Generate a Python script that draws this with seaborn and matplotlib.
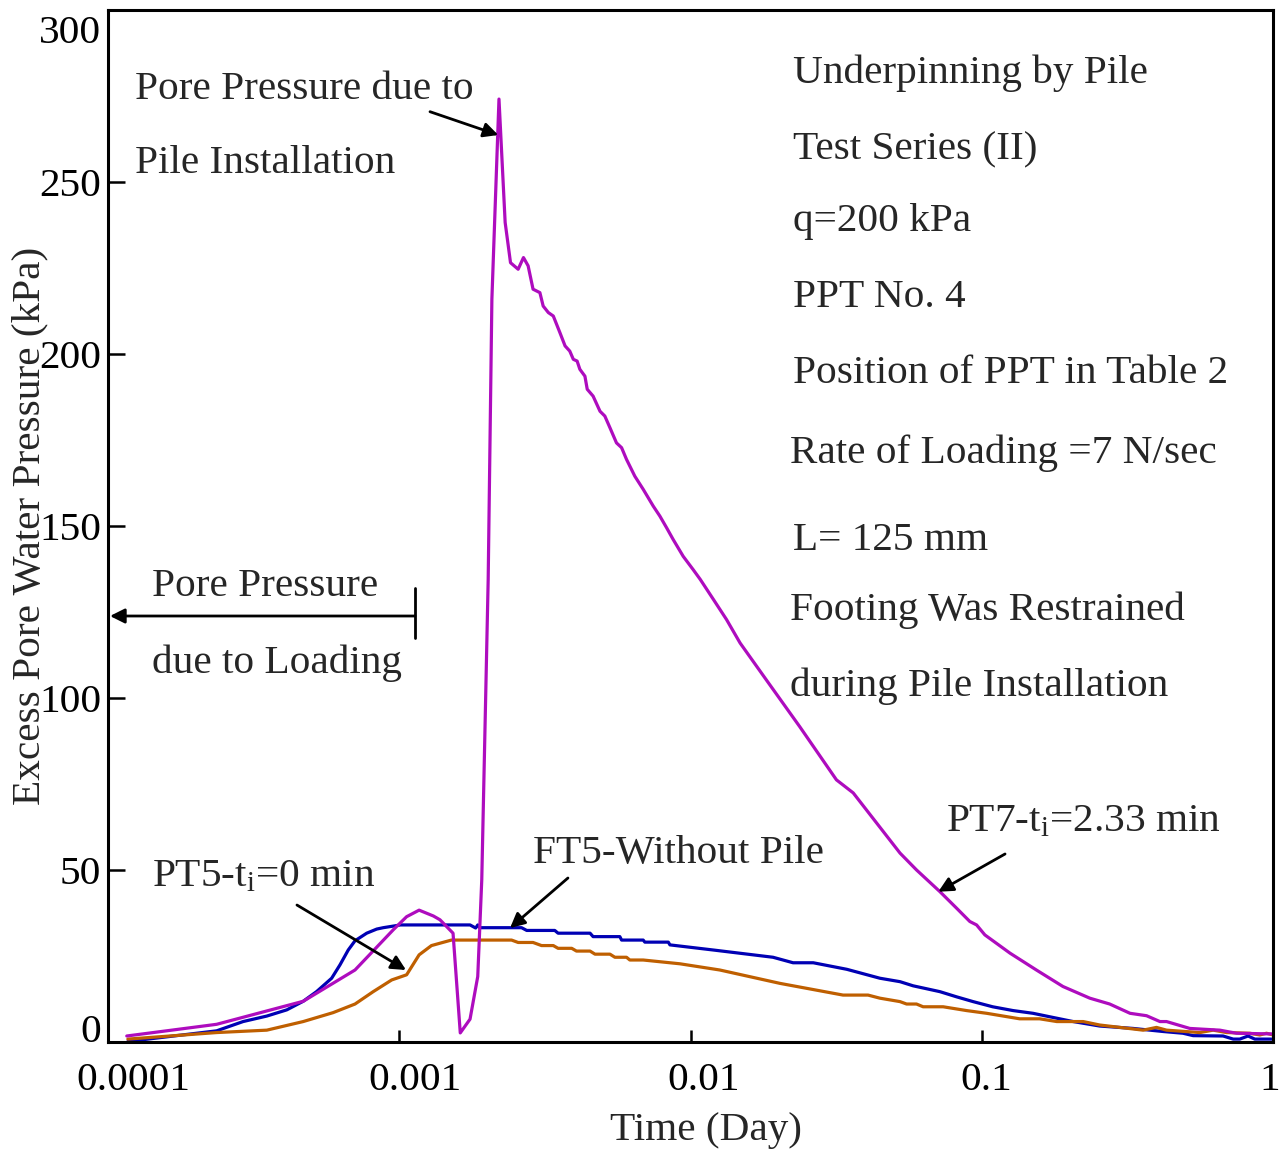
import matplotlib
matplotlib.use("Agg")
import matplotlib.pyplot as plt
import numpy as np
import pandas as pd
import seaborn as sns
from matplotlib.ticker import NullLocator
from matplotlib.transforms import ScaledTranslation

# ---------------- data (time in days, excess pore water pressure in kPa) ----------------
pt7_time = [1.16e-4, 2.36e-4, 4.68e-4, 7.05e-4, 9.54e-4, 1.06e-3, 1.17e-3, 1.31e-3, 1.38e-3,
            1.53e-3, 1.62e-3, 1.75e-3, 1.86e-3, 1.92e-3, 2.02e-3, 2.08e-3, 2.20e-3, 2.31e-3,
            2.41e-3, 2.56e-3, 2.67e-3, 2.77e-3, 2.88e-3, 3.04e-3, 3.12e-3, 3.25e-3, 3.38e-3,
            3.56e-3, 3.71e-3, 3.85e-3, 3.96e-3, 4.08e-3, 4.17e-3, 4.34e-3, 4.42e-3, 4.63e-3,
            4.89e-3, 5.08e-3, 5.29e-3, 5.57e-3, 5.80e-3, 6.03e-3, 6.44e-3, 6.88e-3, 7.45e-3,
            7.85e-3, 8.28e-3, 8.72e-3, 9.44e-3, 1.02e-2, 1.08e-2, 1.20e-2, 1.33e-2, 1.48e-2,
            1.82e-2, 2.37e-2, 3.17e-2, 3.62e-2, 5.24e-2, 5.97e-2, 7.18e-2, 8.19e-2, 9.10e-2,
            9.60e-2, 0.1025, 0.125, 0.154, 0.190, 0.235, 0.275, 0.323, 0.368, 0.409, 0.431,
            0.518, 0.657, 0.749, 1.0]
pt7_pwp = [1.6, 5.0, 11.7, 20.8, 32.5, 36.3, 38.2, 36.5, 35.4,
           31.5, 2.5, 6.5, 18.9, 47.0, 134.4, 215.9, 274.1, 238.2,
           226.5, 224.6, 228.0, 225.6, 218.8, 217.8, 213.9, 212.0, 211.0,
           206.2, 202.3, 200.8, 198.4, 197.9, 195.5, 193.5, 189.7, 187.7,
           183.3, 181.9, 178.5, 174.1, 172.7, 169.3, 164.4, 160.6, 155.7,
           152.8, 149.4, 146.0, 141.1, 137.3, 134.4, 128.5, 122.7, 115.9,
           105.2, 91.6, 76.1, 72.3, 54.8, 49.9, 43.6, 38.8, 34.9,
           33.9, 31.0, 25.7, 20.8, 16.0, 12.6, 10.9, 8.2, 7.5, 5.8, 5.8,
           3.8, 3.3, 2.4, 2.2]

ft5_time = [1.17e-4, 2.36e-4, 2.91e-4, 3.51e-4, 4.11e-4, 4.68e-4, 5.20e-4, 5.86e-4, 6.26e-4,
            6.68e-4, 7.05e-4, 7.73e-4, 8.37e-4, 8.81e-4, 1.01e-3, 1.75e-3, 1.83e-3, 1.86e-3,
            1.89e-3, 2.63e-3, 2.74e-3, 3.42e-3, 3.51e-3, 4.52e-3, 4.63e-3, 5.72e-3, 5.80e-3,
            6.88e-3, 6.97e-3, 8.39e-3, 8.50e-3, 1.20e-2, 1.92e-2, 2.25e-2, 2.64e-2, 3.44e-2,
            4.47e-2, 5.24e-2, 5.81e-2, 7.18e-2, 8.19e-2, 9.34e-2, 0.109, 0.128, 0.150, 0.171,
            0.206, 0.254, 0.331, 0.420, 0.491, 0.532, 0.674, 0.730, 0.769, 0.821, 0.866, 1.0]
ft5_pwp = [0.0, 3.1, 5.8, 7.4, 9.2, 11.7, 14.5, 18.4, 22.3,
           26.6, 29.3, 31.5, 32.7, 33.1, 33.9, 33.9, 33.0, 33.9,
           33.1, 33.1, 32.3, 32.3, 31.5, 31.5, 30.5, 30.5, 29.5,
           29.5, 28.9, 28.9, 28.1, 26.6, 24.5, 22.9, 22.9, 21.0,
           18.4, 17.4, 16.2, 14.5, 13.0, 11.6, 10.1, 9.0, 8.2, 7.2,
           5.8, 4.5, 3.8, 2.9, 2.4, 1.7, 1.6, 0.7, 0.7, 1.6, 0.7, 0.7]

pt5_time = [1.17e-4, 2.36e-4, 3.51e-4, 4.68e-4, 5.93e-4, 7.05e-4, 8.14e-4, 9.42e-4, 1.06e-3,
            1.17e-3, 1.29e-3, 1.51e-3, 2.43e-3, 2.56e-3, 2.88e-3, 3.08e-3, 3.38e-3, 3.51e-3,
            3.91e-3, 4.06e-3, 4.52e-3, 4.70e-3, 5.29e-3, 5.50e-3, 6.03e-3, 6.19e-3, 6.88e-3,
            9.20e-3, 1.26e-2, 2.03e-2, 3.34e-2, 4.07e-2, 4.47e-2, 5.24e-2, 5.52e-2, 5.97e-2,
            6.29e-2, 7.37e-2, 8.86e-2, 0.104, 0.135, 0.158, 0.181, 0.223, 0.254, 0.358, 0.398,
            0.431, 0.561, 0.623, 0.693, 0.832, 0.901, 0.950, 1.0]
pt5_pwp = [0.7, 2.6, 3.3, 5.8, 8.4, 10.9, 14.5, 17.9, 19.4,
           25.2, 27.9, 29.5, 29.5, 28.8, 28.8, 27.9, 27.9, 27.1,
           27.1, 26.3, 26.3, 25.4, 25.4, 24.5, 24.5, 23.7, 23.7,
           22.6, 20.8, 16.9, 13.5, 13.5, 12.6, 11.6, 10.9, 10.9,
           10.1, 10.1, 9.0, 8.2, 6.6, 6.6, 5.8, 5.8, 4.8, 3.3, 4.1,
           3.3, 2.6, 3.3, 2.6, 2.4, 1.9, 2.4, 1.9]

series_names = ["FT5", "PT5", "PT7"]
series_colors = ["#0000B4", "#BF5F00", "#AE0CBE"]

x_ticks = [1e-4, 1e-3, 1e-2, 1e-1, 1]
x_tick_labels = ["0.0001", "0.001", "0.01", "0.1", "1"]
y_ticks = [0, 50, 100, 150, 200, 250, 300]

info_lines = ["Underpinning by Pile", "Test Series (II)", "q=200 kPa", "PPT No. 4",
              "Position of PPT in Table 2", "Rate of Loading =7 N/sec", "L= 125 mm",
              "Footing Was Restrained", "during Pile Installation"]

# ---------------- style ----------------
sns.set_style("white")
plt.rcParams["font.family"] = ["Liberation Serif", "DejaVu Serif"]
plt.rcParams["mathtext.fontset"] = "custom"
plt.rcParams["mathtext.rm"] = "Liberation Serif"
plt.rcParams["mathtext.it"] = "Liberation Serif:italic"

FS = 29.7
FS_TICK = 29.6

df = pd.concat([
    pd.DataFrame({"time": ft5_time, "pwp": ft5_pwp, "series": "FT5"}),
    pd.DataFrame({"time": pt5_time, "pwp": pt5_pwp, "series": "PT5"}),
    pd.DataFrame({"time": pt7_time, "pwp": pt7_pwp, "series": "PT7"}),
], ignore_index=True)

fig = plt.figure(figsize=(12.87, 11.49), dpi=100)
ax = fig.add_axes([108 / 1287, 107.5 / 1149, 1165 / 1287, 1031.5 / 1149])

sns.lineplot(data=df, x="time", y="pwp", hue="series", hue_order=series_names,
             palette=dict(zip(series_names, series_colors)), sort=False, estimator=None,
             linewidth=2.3, legend=False, ax=ax)

ax.set_xscale("log")
ax.set_xlim(1e-4, 1)
ax.set_ylim(0, 300)
ax.set_xticks(x_ticks)
ax.set_xticklabels(x_tick_labels)
ax.xaxis.set_minor_locator(NullLocator())
ax.set_yticks(y_ticks)
ax.set_yticklabels([str(v) for v in y_ticks])

for s in ax.spines.values():
    s.set_visible(True)
    s.set_color("black")
    s.set_linewidth(2.2)

ax.tick_params(axis="x", direction="in", length=9, width=1.8, labelsize=FS_TICK, pad=15,
               colors="black", bottom=True, top=False)
ax.tick_params(axis="y", direction="in", length=12.5, width=1.8, labelsize=FS_TICK, pad=5,
               colors="black", left=True, right=False)

ax.set_xlabel("Time (Day)", fontsize=FS)
ax.set_ylabel("Excess Pore Water Pressure (kPa)", fontsize=FS)
ax.xaxis.set_label_coords(0.513, -0.0684)
ax.yaxis.set_label_coords(-0.051, 0.5)

# ---------------- annotations ----------------
tf = ax.transAxes
ax.text(0.0232, 0.9137, "Pore Pressure due to", transform=tf, fontsize=FS, va="baseline")
ax.text(0.0232, 0.8420, "Pile Installation", transform=tf, fontsize=FS, va="baseline")

info_x = [0.5880, 0.5880, 0.5880, 0.5880, 0.5880, 0.5854, 0.5880, 0.5854, 0.5854]
info_y = [0.9292, 0.8556, 0.7857, 0.7121, 0.6384, 0.5608, 0.4765, 0.4086, 0.3350]
for xx, yy, s in zip(info_x, info_y, info_lines):
    ax.text(xx, yy, s, transform=tf, fontsize=FS, va="baseline")

ax.text(0.0378, 0.4319, "Pore Pressure", transform=tf, fontsize=FS, va="baseline")
ax.text(0.0378, 0.3572, "due to Loading", transform=tf, fontsize=FS, va="baseline")

ax.text(0.0378, 0.1501, r"PT5-$\mathrm{t}_{\mathrm{i}}$=0 min", transform=tf, fontsize=FS, va="baseline")
ax.text(0.3648, 0.1730, "FT5-Without Pile", transform=tf, fontsize=FS, va="baseline")
ax.text(0.7193, 0.2041, r"PT7-$\mathrm{t}_{\mathrm{i}}$=2.33 min", transform=tf, fontsize=FS, va="baseline")

arrow_kw = dict(arrowstyle="-|>", mutation_scale=22, lw=2.0, color="black",
                shrinkA=0, shrinkB=0)
arrows = [((0.2764, 0.9014), (0.3350, 0.8788)),
          ((0.2635, 0.4125), (0.0017, 0.4125)),
          ((0.1622, 0.1323), (0.2558, 0.0693)),
          ((0.3948, 0.1585), (0.3451, 0.1100)),
          ((0.7700, 0.1818), (0.7127, 0.1452))]
for start, tip in arrows:
    ax.annotate("", xy=tip, xycoords=tf, xytext=start, textcoords=tf, arrowprops=arrow_kw)

ax.plot([0.2635, 0.2635], [0.3912, 0.4397], transform=tf, color="black", lw=2.0)

# ---------------- tick label fine placement ----------------
x_offsets_px = [25, 16, 13, 5, -3]
for lab, dx in zip(ax.get_xticklabels(), x_offsets_px):
    lab.set_transform(lab.get_transform() + ScaledTranslation(dx / 100, 0, fig.dpi_scale_trans))
ylabs = ax.get_yticklabels()
ylabs[0].set_va("baseline")
ylabs[-1].set_va("top")
ylabs[-1].set_transform(ylabs[-1].get_transform() + ScaledTranslation(0, -5 / 100, fig.dpi_scale_trans))

fig.savefig("out.png", dpi=100)
